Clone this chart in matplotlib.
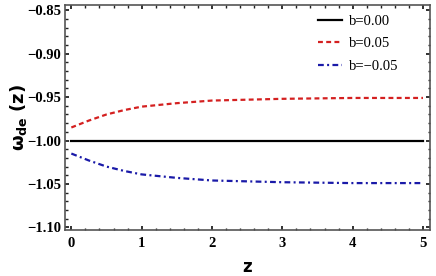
import matplotlib.pyplot as plt
import numpy as np
from matplotlib.ticker import MultipleLocator

z = [0, 0.25, 0.5, 0.75, 1, 1.5, 2, 2.5, 3, 4, 5]
w_b000 = [-1.0] * len(z)
w_b005 = [-0.985, -0.977, -0.970, -0.965, -0.961, -0.957, -0.954, -0.953, -0.952, -0.951, -0.951]
w_bm005 = [-1.015, -1.023, -1.030, -1.035, -1.039, -1.043, -1.046, -1.047, -1.048, -1.049, -1.049]

fig = plt.figure(figsize=(4.36, 2.76), dpi=100)
ax = fig.add_axes([65 / 436, 1 - 230 / 276, 365 / 436, 225 / 276])

ax.plot(z, w_b000, color='black', lw=1.6, label='b=0.00')
ax.plot(z, w_b005, color='#d42020', lw=1.6, ls=(0, (2.2, 1.5)), label='b=0.05')
ax.plot(z, w_bm005, color='#1a1aa8', lw=1.6, ls=(0, (2.6, 1.5, 0.9, 1.5)), label='b=\u22120.05')

ax.set_xlim(-0.09, 5.1)
ax.set_ylim(-1.103, -0.844)
ax.xaxis.set_major_locator(MultipleLocator(1))
ax.xaxis.set_minor_locator(MultipleLocator(0.2))
ax.yaxis.set_major_locator(MultipleLocator(0.05))
ax.yaxis.set_minor_locator(MultipleLocator(0.01))
ax.yaxis.set_major_formatter(plt.FuncFormatter(lambda v, p: f'{v:.2f}'.replace('-', '\u2212')))

ax.tick_params(which='both', direction='in', top=True, right=True, colors='#222222')
ax.tick_params(which='major', length=3, width=1.3)
ax.tick_params(which='minor', length=1.8, width=1)
ax.tick_params(labeltop=False, labelright=False)
ax.tick_params(axis='x', pad=5)
ax.tick_params(axis='y', pad=3)
for lab in ax.get_xticklabels() + ax.get_yticklabels():
    lab.set_fontfamily('Liberation Serif')
    lab.set_fontweight('bold')
    lab.set_fontsize(10.5)
    lab.set_color('black')
for s in ax.spines.values():
    s.set_color('#555555')
    s.set_linewidth(1.2)

ax.set_xlabel('z', fontsize=12, fontweight='bold', labelpad=6)
ax.set_ylabel(r'$\mathbf{\omega_{de}}$ $\mathbf{(z)}$', fontsize=13, labelpad=-1.5)

leg = ax.legend(loc='upper left', bbox_to_anchor=(0.693, 0.958), frameon=False,
                prop={'family': 'Liberation Serif', 'size': 10.5},
                handlelength=1.65, handletextpad=0.45, labelspacing=0.65,
                borderpad=0, borderaxespad=0)

fig.savefig('out.png', dpi=100)
